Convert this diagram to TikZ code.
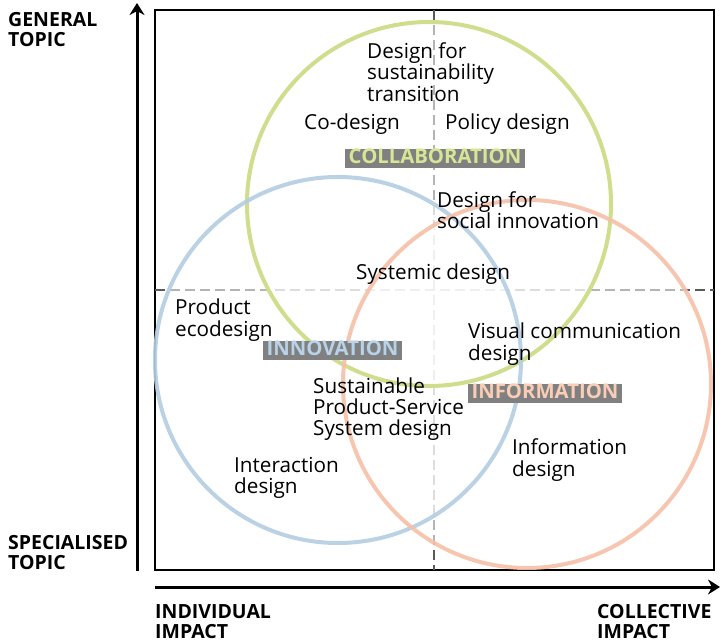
\documentclass[tikz,border=0pt]{standalone}
\usepackage{fontspec}
\setmainfont{Open Sans}
\usetikzlibrary{arrows.meta}
\definecolor{cgreen}{RGB}{206,222,140}
\definecolor{cblue}{RGB}{180,205,226}
\definecolor{corange}{RGB}{246,192,168}
\definecolor{tgreen}{RGB}{214,230,150}
\definecolor{tblue}{RGB}{184,210,232}
\definecolor{torange}{RGB}{250,205,182}
\definecolor{lblgray}{RGB}{128,128,128}
\definecolor{dashgray}{RGB}{90,90,90}
\begin{document}
\begin{tikzpicture}[x=1pt,y=-1pt,
  txt/.style={anchor=west,align=left,inner sep=0pt,font=\fontsize{20.7}{21.3}\selectfont},
  axlbl/.style={anchor=west,align=left,inner sep=0pt,font=\bfseries\fontsize{19.5}{20}\selectfont},
  ring/.style={line width=4pt},
  veil/.style={fill=white,fill opacity=0.55},
  tag/.style={fill=lblgray,inner xsep=3.5pt,inner ysep=0pt,text height=15pt,text depth=4pt,font=\bfseries\fontsize{20.3}{18}\selectfont},
  axis/.style={line width=3pt,-{Stealth[length=12pt,width=15pt]}},
  guide/.style={dashgray,line width=1.4pt,dash pattern=on 10pt off 5pt}]
\useasboundingbox (0,0) rectangle (721,644);
% frame
\draw[line width=1.5pt] (155,10) rectangle (714,570);
% guides
\coordinate (vt) at (434,10); \coordinate (vb) at (434,570);
\coordinate (hl) at (155,290); \coordinate (hr) at (714,290);
\draw[guide] (vt) -- (vb);
\draw[guide] (hl) -- (hr);
% circles veil
\fill[veil] (429,204) circle[radius=182pt];
\fill[veil] (338,360) circle[radius=183pt];
\fill[veil] (527,384) circle[radius=184pt];
% rings
\draw[ring,cgreen] (429,204) circle[radius=182pt];
\draw[ring,cblue,opacity=0.9] (338,360) circle[radius=183pt];
\draw[ring,corange,opacity=0.9] (527,384) circle[radius=184pt];
% axes
\coordinate (ys) at (137,571); \coordinate (ye) at (137,3);
\coordinate (xs) at (155,587); \coordinate (xe) at (720,587);
\draw[axis] (ys) -- (ye);
\draw[axis] (xs) -- (xe);
% texts
\node[txt] (dst) at (367,72) {Design for\\sustainability\\transition};
\node[txt] (cod) at (304,124) {Co-design};
\node[txt] (pol) at (445,124) {Policy design};
\node[txt] (dsi) at (437,210) {Design for\\social innovation};
\node[txt] (sys) at (356,274) {Systemic design};
\node[txt] (ped) at (175,320) {Product\\ecodesign};
\node[txt] (vcd) at (468,344) {Visual communication\\design};
\node[txt] (pss) at (313,409) {Sustainable\\Product-Service\\System design};
\node[txt] (inf) at (512,460) {Information\\design};
\node[txt] (int) at (234,478) {Interaction\\design};
% tags
\node[tag,text=tgreen] (col) at (435,158.5) {COLLABORATION};
\node[tag,text=tblue] (inn) at (332.5,350.5) {INNOVATION};
\node[tag,text=torange] (ifo) at (545,393.5) {INFORMATION};
% axis labels
\node[axlbl] (gen) at (8,30) {GENERAL\\TOPIC};
\node[axlbl] (spe) at (8,553) {SPECIALISED\\TOPIC};
\node[axlbl] (ind) at (155,622) {INDIVIDUAL\\IMPACT};
\node[axlbl] (cle) at (597,622) {COLLECTIVE\\IMPACT};
\end{tikzpicture}
\end{document}
